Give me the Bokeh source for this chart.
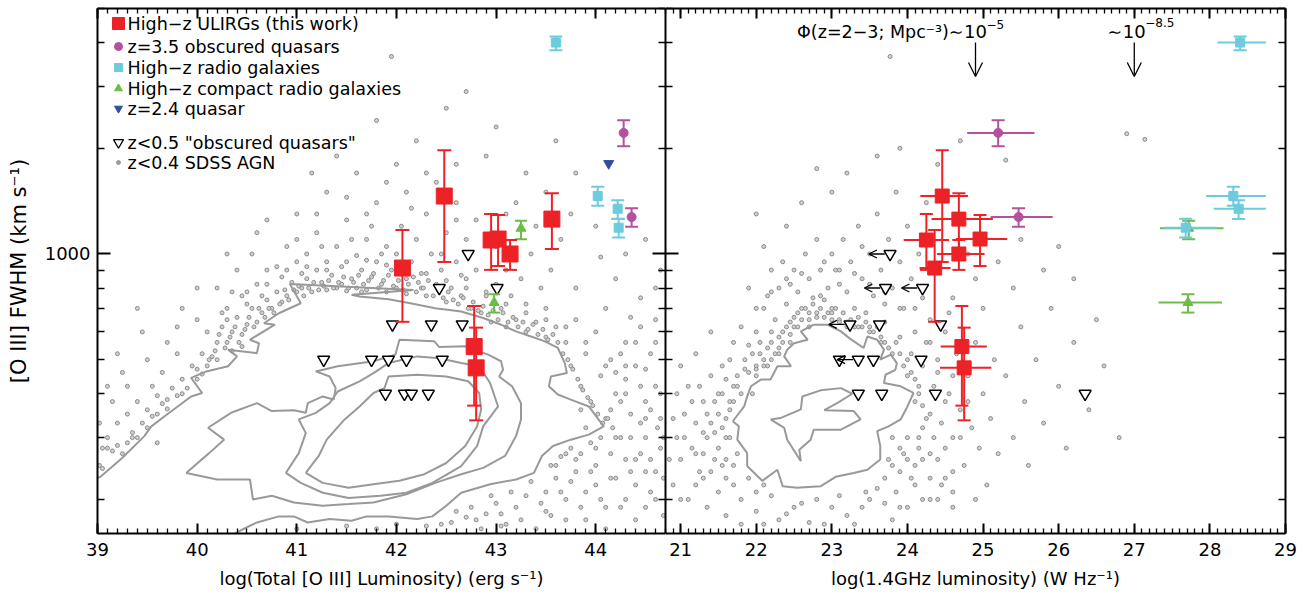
import math
from bokeh.plotting import figure
from bokeh.layouts import row
from bokeh.models import (Range1d, FixedTicker, LinearAxis, LogAxis, Arrow,
                          OpenHead, ColumnDataSource, BasicTickFormatter)
from bokeh.core.properties import value
from bokeh.embed import file_html
from bokeh.resources import INLINE

FONT = "DejaVu Sans"
RED = "#ec2227"
MAG = "#b4509e"
CYAN = "#6ccbdc"
GREEN = "#6cbd45"
BLUE = "#2d4f9e"
GRAY = "#999999"

# ---------------- data ----------------
# High-z ULIRGs (this work)
ulirg_loiii = [42.06, 42.48, 42.95, 43.02, 43.14, 43.56, 42.78, 42.80]
ulirg_lrad = [24.36, 24.46, 24.25, 24.96, 24.68, 24.68, 24.72, 24.75]
ulirg_lrad_lo = [24.16, 24.17, 23.95, 24.64, 24.39, 24.32, 24.44, 24.43]
ulirg_lrad_hi = [24.57, 24.80, 24.55, 25.32, 25.02, 25.13, 25.05, 25.11]
ulirg_fwhm = [912, 1462, 1096, 1103, 1000, 1257, 545, 474]
ulirg_fwhm_lo = [641, 949, 901, 924, 901, 1033, 370, 336]
ulirg_fwhm_hi = [1170, 1973, 1299, 1291, 1096, 1490, 711, 617]

# z=3.5 obscured quasars
oq_loiii = [44.28, 44.36]
oq_lrad = [25.20, 25.47]
oq_lrad_lo = [24.79, 25.10]
oq_lrad_hi = [25.68, 25.92]
oq_fwhm = [2212, 1274]
oq_fwhm_lo = [2027, 1196]
oq_fwhm_hi = [2403, 1349]

# High-z radio galaxies
hzrg_loiii = [43.60, 44.02, 44.22, 44.23]
hzrg_lrad = [28.40, 28.31, 28.38, 27.68]
hzrg_lrad_lo = [28.10, 27.95, 28.05, 27.39]
hzrg_lrad_hi = [28.74, 28.74, 28.74, 28.09]
hzrg_fwhm = [4000, 1462, 1345, 1188]
hzrg_fwhm_lo = [3804, 1372, 1257, 1115]
hzrg_fwhm_hi = [4159, 1553, 1423, 1260]

# High-z compact radio galaxies
crg_loiii = [43.25, 42.98]
crg_lrad = [27.72, 27.71]
crg_lrad_lo = [27.34, 27.32]
crg_lrad_hi = [28.18, 28.16]
crg_fwhm = [1183, 727]
crg_fwhm_lo = [1101, 681]
crg_fwhm_hi = [1243, 768]

# z=2.4 quasar
qso_loiii = [44.13]
qso_fwhm = [1810]

# z<0.5 "obscured quasars"
t2_loiii = [42.72, 42.43, 43.01, 41.96, 42.35, 42.66, 41.27, 41.75, 41.92,
            42.10, 42.46, 41.89, 42.08, 42.15, 42.32]
t2_loiii_fwhm = [1000, 800, 800, 630, 630, 630, 500, 500, 500, 500, 500,
                 400, 400, 400, 400]
t2_lrad = [23.77, 23.71, 24.20, 23.24, 23.63, 24.44, 23.10, 23.35, 23.55,
           24.18, 23.35, 23.66, 24.37, 26.35]
t2_lrad_fwhm = [1000, 800, 800, 630, 630, 630, 500, 500, 500, 500, 400, 400,
                400, 400]
t2_lrad_upper = [1, 1, 1, 1, 0, 0, 0, 1, 0, 0, 0, 0, 0, 0]

# space-density markers (log L_1.4GHz)
phi_lrad = [24.9, 27.0]
phi_exp = ["\u22125", "\u22128.5"]

# z<0.4 SDSS AGN (sampled points outside the contours)
sdss_oiii_points = [
    (39.05, 280), (39.10, 300), (39.15, 275), (39.20, 330), (39.30, 290), (39.30, 350),
    (39.35, 310), (39.40, 380), (39.45, 330), (39.50, 360), (39.55, 420), (39.60, 350),
    (39.60, 395), (39.65, 460), (39.70, 385), (39.75, 415), (39.80, 395), (39.80, 520),
    (39.85, 440), (39.90, 415), (39.95, 480), (40.00, 440), (40.05, 520), (40.10, 480),
    (40.10, 600), (39.30, 420), (39.50, 500), (39.15, 380), (39.70, 560), (40.00, 650),
    (39.02, 330), (39.25, 460), (39.45, 600), (39.85, 700), (39.60, 290),
    (40.15, 510), (40.20, 560), (40.25, 620), (40.30, 560), (40.30, 700), (40.35, 600),
    (40.40, 660), (40.45, 590), (40.45, 760), (40.50, 630), (40.55, 700), (40.60, 640),
    (40.60, 820), (40.65, 680), (40.70, 740), (40.70, 900), (40.75, 700), (40.80, 780),
    (40.85, 730), (40.85, 860), (40.90, 760), (40.95, 830), (41.00, 780), (41.00, 950),
    (40.20, 800), (40.40, 900), (40.55, 1000), (40.90, 1050), (40.25, 680), (40.50, 720),
    (40.65, 760), (40.80, 920), (40.35, 780),
    (41.05, 800), (41.10, 850), (41.10, 1000), (41.15, 780), (41.20, 900), (41.20, 1150),
    (41.25, 830), (41.30, 950), (41.30, 790), (41.35, 870), (41.40, 1050), (41.40, 800),
    (41.45, 920), (41.50, 785), (41.50, 1250), (41.55, 850), (41.60, 990), (41.60, 800),
    (41.65, 900), (41.70, 1100), (41.70, 790), (41.75, 860), (41.80, 950), (41.80, 1400),
    (41.85, 820), (41.90, 1050), (41.90, 780), (41.95, 900), (42.00, 1000), (42.00, 800),
    (42.05, 1200), (42.10, 850), (42.10, 770), (42.15, 950), (42.20, 1100), (42.20, 780),
    (42.25, 880), (42.30, 1300), (42.30, 760), (42.35, 1000), (42.40, 820), (42.40, 1600),
    (42.45, 900), (42.50, 1150), (42.50, 730), (42.55, 800), (42.60, 950), (42.60, 1400),
    (42.65, 760), (42.70, 850), (42.70, 1100), (42.75, 700), (42.80, 900), (42.80, 1250),
    (41.30, 1500), (41.60, 1700), (41.00, 1300), (42.00, 1800), (42.20, 2100), (41.80, 2400),
    (42.50, 2600), (43.00, 2300), (40.70, 1250), (41.90, 1600), (42.90, 1900), (43.30, 1700),
    (43.60, 2100), (42.60, 1800), (41.40, 1900), (41.95, 3650), (42.70, 2900), (41.15, 1700),
    (41.25, 1050), (41.55, 1100), (41.75, 1200), (42.15, 1350), (41.05, 880), (41.45, 820),
    (41.85, 1000), (42.25, 800), (42.45, 1000), (42.65, 870), (41.65, 780), (42.05, 900),
    (42.85, 680), (42.90, 760), (42.95, 640), (43.00, 820), (43.05, 700), (43.10, 620),
    (43.10, 900), (43.15, 760), (43.20, 650), (43.25, 850), (43.30, 600), (43.30, 720),
    (43.35, 1000), (43.40, 640), (43.45, 800), (43.50, 580), (43.50, 700), (43.55, 900),
    (43.60, 620), (43.65, 1100), (43.40, 1200), (43.00, 1050), (43.20, 1400), (43.75, 1300),
    (43.70, 560), (43.75, 480), (43.80, 650), (43.85, 420), (43.90, 520), (43.95, 380),
    (44.00, 600), (44.05, 450), (44.10, 340), (44.10, 700), (44.15, 500), (44.20, 400),
    (44.25, 300), (44.30, 560), (44.30, 440), (44.35, 350), (44.40, 260), (44.40, 480),
    (44.45, 620), (44.50, 380), (44.50, 300), (44.55, 520), (44.60, 420), (44.60, 240),
    (44.65, 340), (44.20, 230), (44.00, 280), (43.90, 320), (44.30, 200), (44.50, 190),
    (43.80, 800), (44.20, 850), (44.45, 750), (44.60, 650), (44.65, 900), (44.05, 980),
    (43.85, 360), (44.15, 270), (44.35, 660), (44.55, 260), (44.25, 520), (44.45, 420),
    (42.60, 185), (42.80, 175), (43.00, 195), (43.10, 170), (43.30, 205), (43.50, 185),
    (43.60, 230), (43.70, 200), (43.80, 260), (43.90, 175), (42.30, 168), (41.80, 165),
    (43.40, 165), (44.00, 220), (43.20, 190), (42.90, 182),
    (40.12, 500), (40.18, 530), (40.22, 590), (40.28, 540), (40.33, 580), (40.38, 620),
    (40.42, 560), (40.48, 610), (40.52, 660), (40.57, 620), (40.62, 700), (40.68, 660),
    (40.72, 700), (40.77, 680), (40.83, 720), (40.88, 790), (40.92, 740), (40.97, 790),
    (41.02, 810), (41.07, 760), (41.12, 800), (41.17, 830), (41.22, 790), (41.27, 810),
    (41.32, 840), (41.37, 800), (41.42, 830), (41.47, 860), (41.52, 800), (41.57, 830),
    (41.62, 870), (41.67, 820), (41.72, 840), (41.77, 880), (41.82, 800), (41.87, 840),
    (41.92, 870), (41.97, 810), (42.02, 840), (42.07, 790), (42.12, 820), (42.17, 860),
    (42.22, 830), (42.27, 800), (42.32, 840), (42.37, 760), (42.42, 790), (42.47, 750),
    (42.52, 780), (42.57, 740), (42.62, 720), (42.67, 750), (42.72, 700), (42.77, 730),
    (42.82, 690), (42.87, 710), (42.92, 670), (42.97, 690), (43.02, 650), (43.07, 680),
    (43.12, 640), (43.17, 660), (43.22, 620), (43.27, 640), (43.32, 610), (43.37, 630),
    (43.42, 590), (43.47, 610), (43.52, 570), (43.57, 590), (43.62, 560), (43.67, 520),
    (43.72, 500), (43.77, 470), (43.82, 440), (43.87, 410), (43.92, 390), (43.97, 370),
    (44.02, 350), (44.07, 330), (44.12, 340), (44.17, 320),
    (40.30, 650), (40.50, 780), (40.70, 820), (40.90, 900), (41.10, 920), (41.30, 900),
    (41.50, 950), (41.70, 960), (41.90, 930), (42.10, 900), (42.30, 880), (42.50, 840),
    (42.70, 800), (42.90, 780), (43.10, 720), (43.30, 680), (43.50, 650), (43.70, 620),
    (43.90, 560), (44.10, 480), (44.30, 400), (44.50, 340), (44.68, 300),
    (39.05, 245), (39.20, 285), (39.35, 300), (39.55, 345), (39.65, 375), (39.85, 400),
    (43.60, 250), (43.70, 270), (43.80, 240), (43.90, 210), (44.00, 250), (44.10, 190),
    (44.20, 300), (44.30, 260), (44.40, 220), (44.50, 240), (44.60, 200), (44.65, 280),
    (43.50, 210), (43.70, 175), (44.10, 165), (44.40, 175),
    (41.00, 165), (41.50, 168), (42.00, 170), (42.45, 170), (42.70, 178), (43.05, 182),
    (40.30, 1000), (40.60, 1150), (41.00, 1100), (41.20, 1300), (41.50, 1450), (41.70, 1300),
    (42.10, 1500), (42.30, 1700), (42.60, 1250), (43.10, 1300), (43.50, 1500), (43.80, 1700),
    (44.00, 1200), (44.30, 1000), (44.50, 1100), (44.60, 800), (40.00, 800), (39.80, 620),
    (39.40, 700), (39.20, 520), (39.10, 420),
    (43.55, 250), (43.65, 265), (43.75, 280), (43.85, 270), (43.95, 290), (44.05, 300),
    (44.15, 360), (44.25, 380), (44.35, 300), (44.45, 330), (44.55, 360), (44.65, 400),
    (44.62, 320), (44.55, 210), (44.35, 240), (44.25, 190), (44.05, 200), (43.95, 240),
    (43.85, 190), (43.65, 210), (43.55, 180), (43.45, 195), (44.15, 230), (44.45, 270),
    (44.68, 230), (44.68, 180), (43.75, 225), (44.60, 560), (44.50, 470), (44.40, 560),
    (44.20, 460), (44.30, 480),
    (42.55, 172), (42.75, 190), (42.95, 205), (43.15, 210), (43.35, 225), (43.25, 175),
    (42.85, 165), (43.05, 168),
    (39.02, 250), (39.10, 280), (39.25, 270), (39.40, 300), (39.50, 320), (39.70, 362),
    (40.00, 470), (40.05, 455), (40.20, 500), (40.35, 530), (40.45, 545),
]

sdss_radio_points = [
    (20.90, 220), (20.95, 300), (21.00, 260), (21.05, 350), (21.10, 200), (21.10, 420),
    (21.15, 280), (21.20, 330), (21.25, 240), (21.30, 380), (21.35, 190), (21.35, 300),
    (21.40, 450), (21.45, 260), (21.50, 350), (21.50, 210), (21.55, 400), (21.60, 300),
    (21.60, 180), (21.65, 500), (21.70, 250), (21.75, 420), (21.80, 200), (21.85, 470),
    (21.90, 550), (21.20, 520), (21.00, 480), (21.40, 600), (21.65, 360), (21.30, 230),
    (21.95, 400), (22.00, 450), (22.00, 600), (22.05, 520), (22.10, 700), (22.15, 480),
    (22.20, 560), (22.25, 650), (22.30, 800), (22.30, 520), (22.35, 600), (22.40, 720),
    (22.45, 560), (22.50, 900), (22.50, 660), (22.55, 780), (22.60, 700), (22.65, 1000),
    (22.70, 650), (22.70, 850), (22.75, 750), (22.80, 1100), (22.80, 680), (22.85, 900),
    (22.90, 660), (22.95, 800), (23.00, 700), (23.00, 1000), (22.20, 900), (22.40, 1200),
    (22.60, 1400), (22.10, 1050), (21.90, 800), (22.00, 1300), (22.15, 760), (22.45, 820),
    (22.85, 760), (22.35, 950),
    (23.05, 900), (23.10, 650), (23.15, 1100), (23.20, 780), (23.25, 950), (23.30, 700),
    (23.35, 1200), (23.40, 850), (23.45, 680), (23.50, 1000), (23.55, 760), (23.60, 1300),
    (23.65, 900), (23.70, 640), (23.75, 1100), (23.80, 800), (23.85, 1500), (23.90, 950),
    (23.95, 700), (24.00, 1200), (24.05, 850), (24.10, 600), (24.15, 1000), (24.20, 750),
    (24.25, 1400), (24.30, 900), (24.30, 650), (23.20, 1700), (23.60, 1900), (23.90, 2000),
    (24.40, 1800), (23.00, 1500), (24.70, 2100), (25.30, 1850), (22.80, 1750), (23.77, 3650),
    (27.14, 2120), (23.40, 1050), (23.70, 780), (23.10, 820),
    (23.90, 580), (24.00, 450), (24.05, 520), (24.10, 380), (24.15, 300), (24.20, 480),
    (24.25, 560), (24.30, 350), (24.35, 420), (24.40, 260), (24.40, 500), (24.45, 330),
    (24.50, 600), (24.50, 230), (24.55, 400), (24.60, 300), (24.65, 520), (24.70, 360),
    (24.75, 250), (24.80, 450), (24.85, 320), (24.90, 560), (24.95, 280), (25.00, 400),
    (25.05, 220), (25.10, 340), (25.15, 500), (25.20, 270), (24.20, 200), (24.60, 190),
    (24.90, 200), (24.15, 420), (24.35, 300), (24.55, 680),
    (25.30, 450), (25.40, 300), (25.50, 620), (25.55, 380), (25.60, 250), (25.70, 500),
    (25.80, 330), (25.90, 700), (26.00, 420), (26.10, 280), (26.20, 560), (26.40, 360),
    (26.60, 480), (26.80, 300), (25.40, 800), (25.80, 900), (26.20, 850), (26.50, 650),
    (25.00, 700), (25.20, 950), (24.90, 850), (24.60, 750), (24.80, 1000), (25.50, 1100),
    (26.00, 1050), (26.90, 2200),
    (21.80, 170), (22.00, 185), (22.30, 175), (22.60, 195), (22.90, 170), (23.20, 180),
    (23.50, 200), (23.80, 175), (23.60, 215), (22.20, 205),
    (21.60, 340), (21.65, 380), (21.70, 420), (21.75, 450), (21.80, 400), (21.85, 500),
    (21.90, 460), (21.95, 520), (22.00, 480), (22.05, 560), (22.10, 500), (22.15, 540),
    (22.20, 600), (22.25, 520), (22.30, 580), (22.35, 560), (22.40, 620), (22.45, 590),
    (22.50, 620), (22.55, 680), (22.60, 650), (22.65, 700), (22.70, 680), (22.75, 720),
    (22.80, 660), (22.85, 700), (22.90, 740), (22.95, 680), (23.00, 650), (23.05, 700),
    (23.10, 640), (23.15, 680), (23.20, 620), (23.25, 650), (23.30, 620), (23.35, 660),
    (23.40, 620), (23.45, 640), (23.50, 620), (23.55, 600), (23.60, 620), (23.65, 580),
    (23.70, 560), (23.75, 540), (23.80, 520), (23.85, 560), (23.90, 520), (23.95, 480),
    (24.00, 500), (24.05, 460), (24.10, 440), (24.15, 400), (24.20, 370), (24.25, 340),
    (24.20, 320), (24.15, 280), (24.10, 250), (24.05, 230), (24.00, 300), (23.95, 270),
    (23.90, 240), (23.85, 210), (23.80, 300), (23.75, 260),
    (21.50, 280), (21.55, 320), (21.60, 260), (21.45, 380), (21.40, 330), (21.30, 310),
    (21.20, 270), (21.70, 220), (21.75, 270), (21.60, 230), (21.90, 230), (22.00, 210),
    (22.10, 220), (21.55, 480), (21.70, 560), (21.80, 620), (22.00, 700), (22.20, 780),
    (22.40, 850), (22.60, 880), (22.90, 950), (23.10, 900), (23.30, 880), (23.50, 820),
    (23.70, 720), (23.90, 700), (24.10, 700), (24.30, 560), (24.40, 460), (24.50, 380),
    (24.60, 450), (24.70, 300), (24.80, 380), (24.30, 270), (24.45, 220), (24.60, 240),
    (24.30, 200), (24.00, 190), (23.70, 195), (22.50, 190), (22.80, 200), (23.10, 205),
    (23.40, 190),
    (20.85, 260), (20.90, 340), (20.95, 400), (21.00, 200), (21.05, 300), (21.15, 380),
    (21.20, 220), (21.25, 420), (21.30, 270), (21.35, 350), (21.40, 240), (21.45, 310),
    (21.50, 400), (21.55, 250), (21.60, 440), (21.65, 300), (21.70, 380),
    (22.00, 470), (22.10, 480), (22.20, 500), (22.30, 540), (22.45, 640), (22.55, 620),
    (22.70, 620), (23.00, 680), (23.20, 640), (23.35, 620), (23.50, 600), (23.65, 560),
    (23.70, 230), (23.80, 250), (23.90, 280), (24.00, 260), (24.10, 220), (24.20, 260),
    (24.30, 230), (24.40, 200), (23.90, 190), (24.50, 280), (24.60, 210),
    (22.10, 170), (22.40, 182), (22.70, 172), (23.00, 190), (23.30, 170), (23.45, 210),
]

oiii_contours = [
    [(38.95, 228), (39.03, 232), (39.25, 263), (39.47, 303), (39.54, 323), (39.72, 353),
     (39.94, 393), (40.05, 402), (39.94, 444), (40.09, 463), (40.31, 479), (40.40, 511),
     (40.31, 534), (40.60, 522), (40.62, 557), (40.53, 570), (40.78, 629), (40.67, 635),
     (40.82, 678), (41.04, 724), (40.93, 822), (42.17, 790), (41.55, 765), (41.63, 757),
     (41.92, 743), (42.14, 724), (42.39, 701), (42.65, 686), (42.87, 657), (43.05, 629),
     (43.20, 602), (43.35, 582), (43.49, 564), (43.62, 540), (43.69, 489), (43.71, 458),
     (43.55, 448), (43.53, 420), (43.62, 398), (43.75, 385), (43.93, 368), (44.08, 323),
     (43.93, 306), (43.75, 296), (43.57, 284), (43.46, 266), (43.38, 238), (43.20, 228),
     (42.94, 221), (42.65, 209), (42.50, 192), (42.36, 179), (42.21, 176), (41.92, 179),
     (41.70, 179), (41.55, 174), (41.33, 176), (41.11, 172), (40.97, 179), (40.82, 179),
     (40.60, 172), (40.45, 164), (40.30, 155)],
    [(39.89, 238), (40.12, 271), (40.27, 296), (40.11, 320), (40.34, 353), (40.60, 376),
     (40.75, 357), (40.97, 359), (41.09, 353), (41.11, 376), (41.26, 393), (41.37, 385),
     (41.39, 415), (41.33, 448), (41.19, 463), (41.41, 479), (41.77, 495), (41.99, 517),
     (42.03, 570), (42.38, 564), (42.43, 543), (42.69, 546), (42.92, 517), (43.05, 495),
     (43.07, 468), (43.03, 448), (43.16, 420), (43.25, 376), (43.25, 338), (43.20, 303),
     (43.09, 266), (42.87, 246), (42.65, 236), (42.39, 223), (42.10, 207), (41.77, 196),
     (41.52, 194), (41.26, 192), (40.97, 196), (40.75, 205), (40.56, 200), (40.53, 228),
     (40.20, 228), (39.89, 238)],
    [(40.89, 238), (41.02, 271), (41.09, 309), (41.02, 338), (41.19, 353), (41.33, 376),
     (41.41, 406), (41.63, 434), (41.77, 458), (41.92, 489), (42.21, 511), (42.43, 505),
     (42.65, 489), (42.83, 479), (42.94, 429), (43.02, 368), (42.87, 323), (42.81, 284),
     (42.65, 249), (42.36, 223), (42.10, 209), (41.84, 205), (41.52, 202), (41.26, 209),
     (41.04, 223), (40.89, 238)],
    [(41.09, 238), (41.22, 266), (41.30, 296), (41.48, 338), (41.63, 368), (41.77, 402),
     (41.88, 415), (41.92, 448), (42.21, 453), (42.50, 448), (42.72, 434), (42.83, 402),
     (42.85, 361), (42.81, 323), (42.69, 284), (42.50, 254), (42.28, 236), (42.03, 226),
     (41.77, 221), (41.52, 216), (41.26, 223), (41.09, 238)],
]

radio_contours = [
    [(21.69, 334), (21.77, 323), (21.75, 296), (21.88, 271), (21.88, 249), (22.08, 226),
     (22.28, 243), (22.35, 218), (22.54, 216), (22.85, 218), (23.05, 232), (23.29, 238),
     (23.47, 243), (23.64, 260), (23.64, 284), (23.60, 313), (23.75, 323), (23.91, 338),
     (24.00, 368), (24.08, 402), (23.91, 420), (23.69, 429), (23.71, 453), (23.84, 468),
     (23.86, 489), (23.78, 517), (23.64, 500), (23.69, 534), (23.60, 570), (23.47, 582),
     (23.42, 540), (23.23, 576), (23.12, 602), (22.94, 629), (22.76, 629), (22.59, 602),
     (22.68, 570), (22.50, 557), (22.41, 534), (22.37, 511), (22.46, 479), (22.28, 479),
     (22.19, 439), (22.06, 439), (21.93, 420), (21.88, 393), (21.84, 368), (21.69, 334)],
    [(22.19, 338), (22.32, 341), (22.59, 361), (22.61, 393), (22.85, 409), (23.12, 415),
     (23.27, 400), (23.07, 376), (22.90, 359), (23.29, 357), (23.38, 338), (23.12, 316),
     (22.76, 316), (22.72, 296), (22.57, 277), (22.59, 257), (22.41, 296), (22.37, 320),
     (22.19, 338)],
]

# axes / ticks
oiii_range = (39.0, 44.7)
rad_range = (20.8, 29.0)
fwhm_range = (160, 5000)
oiii_major = [39, 40, 41, 42, 43, 44]
rad_major = [21, 22, 23, 24, 25, 26, 27, 28, 29]
fwhm_major = [1000]
fwhm_minor = [200, 300, 400, 500, 600, 700, 800, 900, 2000, 3000, 4000, 5000]

legend_labels = ["High\u2212z ULIRGs (this work)", "z=3.5 obscured quasars",
                 "High\u2212z radio galaxies", "High\u2212z compact radio galaxies",
                 "z=2.4 quasar", "z<0.5 \"obscured quasars\"", "z<0.4 SDSS AGN"]

# ---------------- layout constants ----------------
FRAME_H = 525
OIII_W = 568
RAD_W = 620


def minor_list(lo, hi):
    n = int(round((hi - lo) * 10))
    return [round(lo + i * 0.1, 2) for i in range(n + 1)]


def style_axis(ax, ticks, show_labels, major_len, minor_len):
    ax.axis_line_width = 2
    ax.axis_line_color = "black"
    ax.major_tick_line_width = 2
    ax.minor_tick_line_width = 1.3
    ax.major_tick_line_color = "black"
    ax.minor_tick_line_color = "black"
    ax.major_tick_in = major_len
    ax.major_tick_out = 0
    ax.minor_tick_in = minor_len
    ax.minor_tick_out = 0
    ax.formatter = BasicTickFormatter(use_scientific=False)
    ax.major_label_text_font = FONT
    ax.major_label_text_color = "black"
    ax.major_label_text_font_size = "18px"
    ax.axis_label_text_font = FONT
    ax.axis_label_text_font_style = "normal"
    ax.axis_label_text_color = "black"
    ax.axis_label_text_font_size = "18px"
    if not show_labels:
        ax.major_label_overrides = {t: "" for t in ticks}
        ax.major_label_text_font_size = "1px"
        ax.major_label_text_alpha = 0
        ax.major_label_standoff = 0
        ax.axis_label = ""
        ax.axis_label_standoff = 0


y_range = Range1d(*fwhm_range)


def build(xr, xmajor, frame_w, border_l, border_r, xlabel, show_y):
    p = figure(frame_width=frame_w, frame_height=FRAME_H, x_range=Range1d(*xr),
               y_range=y_range, y_axis_type="log", output_backend="svg",
               toolbar_location=None, min_border_left=border_l,
               min_border_right=border_r, min_border_top=8, min_border_bottom=65,
               background_fill_color="white", border_fill_color="white",
               outline_line_color=None)
    p.grid.visible = False
    xminor = minor_list(*xr)
    xb = p.xaxis[0]
    xb.ticker = FixedTicker(ticks=xmajor, minor_ticks=xminor)
    style_axis(xb, xmajor, True, 10, 5)
    xb.axis_label = xlabel
    xb.major_label_standoff = 9
    xb.axis_label_standoff = 9
    xa = LinearAxis(ticker=FixedTicker(ticks=xmajor, minor_ticks=xminor))
    style_axis(xa, xmajor, False, 10, 5)
    p.add_layout(xa, "above")
    yl = p.yaxis[0]
    yl.ticker = FixedTicker(ticks=fwhm_major, minor_ticks=fwhm_minor)
    style_axis(yl, fwhm_major, show_y, 13, 7)
    if show_y:
        yl.axis_label = "[O III] FWHM (km s\u207b\u00b9)"
        yl.axis_label_text_font_size = "21px"
        yl.major_label_standoff = 7
        yl.axis_label_standoff = 11
    yr = LogAxis(ticker=FixedTicker(ticks=fwhm_major, minor_ticks=fwhm_minor))
    style_axis(yr, fwhm_major, False, 13, 7)
    p.add_layout(yr, "right")
    return p


def draw_common(p, pts, contours):
    p.scatter([a for a, b in pts], [b for a, b in pts], marker="circle", size=4,
              fill_color="#d0d0d0", line_color="#8c8c8c", line_width=1)
    for c in contours:
        p.line([a for a, b in c], [b for a, b in c], line_color=GRAY, line_width=2)


def errbars(p, x, lo, hi, color, cap, vertical=True):
    if vertical:
        p.segment(x0=x, y0=lo, x1=x, y1=hi, line_color=color, line_width=2)
        if cap:
            p.scatter(x + x, lo + hi, marker="dash", size=cap, line_color=color, line_width=2)
    else:
        p.segment(x0=lo, y0=x, x1=hi, y1=x, line_color=color, line_width=2)


def frame_to_data(sx, sy, xr, fw):
    x = xr[0] + sx / fw * (xr[1] - xr[0])
    l0, l1 = math.log10(fwhm_range[0]), math.log10(fwhm_range[1])
    return x, 10 ** (l1 - sy / FRAME_H * (l1 - l0))


# ---------------- left panel ----------------
p1 = build(oiii_range, oiii_major, OIII_W, 97, 0,
           "log(Total [O III] Luminosity) (erg s\u207b\u00b9)", True)
draw_common(p1, sdss_oiii_points, oiii_contours)
p1.scatter(t2_loiii, t2_loiii_fwhm, marker="inverted_triangle", size=12,
           fill_color="white", line_color="black", line_width=1.5)
errbars(p1, crg_loiii, crg_fwhm_lo, crg_fwhm_hi, GREEN, 12)
p1.scatter(crg_loiii, crg_fwhm, marker="triangle", size=10, fill_color=GREEN, line_color=GREEN)
errbars(p1, hzrg_loiii, hzrg_fwhm_lo, hzrg_fwhm_hi, CYAN, 13)
p1.scatter(hzrg_loiii, hzrg_fwhm, marker="square", size=9, fill_color=CYAN, line_color=CYAN)
errbars(p1, oq_loiii, oq_fwhm_lo, oq_fwhm_hi, MAG, 13)
p1.scatter(oq_loiii, oq_fwhm, marker="circle", size=9, fill_color=MAG, line_color=MAG)
p1.scatter(qso_loiii, qso_fwhm, marker="inverted_triangle", size=10, fill_color=BLUE, line_color=BLUE)
errbars(p1, ulirg_loiii, ulirg_fwhm_lo, ulirg_fwhm_hi, RED, 14)
p1.scatter(ulirg_loiii, ulirg_fwhm, marker="square", size=16, fill_color=RED, line_color=RED)

leg_rows = [15, 38, 59, 80, 100, 134, 154]
leg_style = [("square", 12, RED, RED, 1), ("circle", 8, MAG, MAG, 1),
             ("square", 8, CYAN, CYAN, 1), ("triangle", 8, GREEN, GREEN, 1),
             ("inverted_triangle", 8, BLUE, BLUE, 1),
             ("inverted_triangle", 10, "white", "black", 1.3), ("circle", 4, GRAY, GRAY, 1)]
for sy, lab, (mk, sz, fc, lc, lw) in zip(leg_rows, legend_labels, leg_style):
    mx, my = frame_to_data(21, sy, oiii_range, OIII_W)
    tx, ty = frame_to_data(30, sy, oiii_range, OIII_W)
    p1.scatter([mx], [my], marker=mk, size=sz, fill_color=fc, line_color=lc, line_width=lw)
    p1.text([tx], [ty], text=[lab], text_font=value(FONT), text_font_size="17.5px",
            text_baseline="middle", text_align="left", text_color="black")

# ---------------- right panel ----------------
p2 = build(rad_range, rad_major, RAD_W, 0, 29,
           "log(1.4GHz luminosity) (W Hz\u207b\u00b9)", False)
draw_common(p2, sdss_radio_points, radio_contours)
lim_x = [x for x, f in zip(t2_lrad, t2_lrad_upper) if f]
lim_y = [y for y, f in zip(t2_lrad_fwhm, t2_lrad_upper) if f]
arr_src = ColumnDataSource(dict(xs=[x - 0.07 for x in lim_x], xe=[x - 0.28 for x in lim_x], y=lim_y))
p2.add_layout(Arrow(end=OpenHead(size=8, line_width=1.3, line_color="black"),
                    x_start="xs", y_start="y", x_end="xe", y_end="y", source=arr_src,
                    line_width=1.3, line_color="black"))
p2.scatter(t2_lrad, t2_lrad_fwhm, marker="inverted_triangle", size=12,
           fill_color="white", line_color="black", line_width=1.5)

errbars(p2, crg_fwhm, crg_lrad_lo, crg_lrad_hi, GREEN, 0, vertical=False)
errbars(p2, crg_lrad, crg_fwhm_lo, crg_fwhm_hi, GREEN, 13)
p2.scatter(crg_lrad, crg_fwhm, marker="triangle", size=10, fill_color=GREEN, line_color=GREEN)
errbars(p2, hzrg_fwhm, hzrg_lrad_lo, hzrg_lrad_hi, CYAN, 0, vertical=False)
errbars(p2, hzrg_lrad, hzrg_fwhm_lo, hzrg_fwhm_hi, CYAN, 13)
p2.scatter(hzrg_lrad, hzrg_fwhm, marker="square", size=9, fill_color=CYAN, line_color=CYAN)
errbars(p2, oq_fwhm, oq_lrad_lo, oq_lrad_hi, MAG, 0, vertical=False)
errbars(p2, oq_lrad, oq_fwhm_lo, oq_fwhm_hi, MAG, 13)
p2.scatter(oq_lrad, oq_fwhm, marker="circle", size=9, fill_color=MAG, line_color=MAG)
errbars(p2, ulirg_fwhm, ulirg_lrad_lo, ulirg_lrad_hi, RED, 0, vertical=False)
errbars(p2, ulirg_lrad, ulirg_fwhm_lo, ulirg_fwhm_hi, RED, 13)
p2.scatter(ulirg_lrad, ulirg_fwhm, marker="square", size=14, fill_color=RED, line_color=RED)

# space-density annotation
phi_src = ColumnDataSource(dict(x=phi_lrad, ys=[4000, 4000], ye=[3200, 3200]))
p2.add_layout(Arrow(end=OpenHead(size=14, line_width=1.3, line_color="black"),
                    x_start="x", y_start="ys", x_end="x", y_end="ye", source=phi_src,
                    line_width=1.3, line_color="black"))
p2.text(phi_lrad, [4300, 4300], text=["10", "10"], text_font=value(FONT),
        text_font_size="18px", text_align="center", text_baseline="middle", text_color="black")
p2.text(phi_lrad, [4490, 4570], text=phi_exp, text_font=value(FONT), x_offset=11,
        text_font_size="12px", text_align="left", text_baseline="middle", text_color="black")
p2.text(phi_lrad, [4300, 4300], text=["\u03a6(z=2\u22123; Mpc\u207b\u00b3)\u223c", "\u223c"],
        text_font=value(FONT), x_offset=-12, text_font_size="17.5px", text_align="right",
        text_baseline="middle", text_color="black")

layout = row(p1, p2)
open("out.html", "w").write(file_html(layout, INLINE))
